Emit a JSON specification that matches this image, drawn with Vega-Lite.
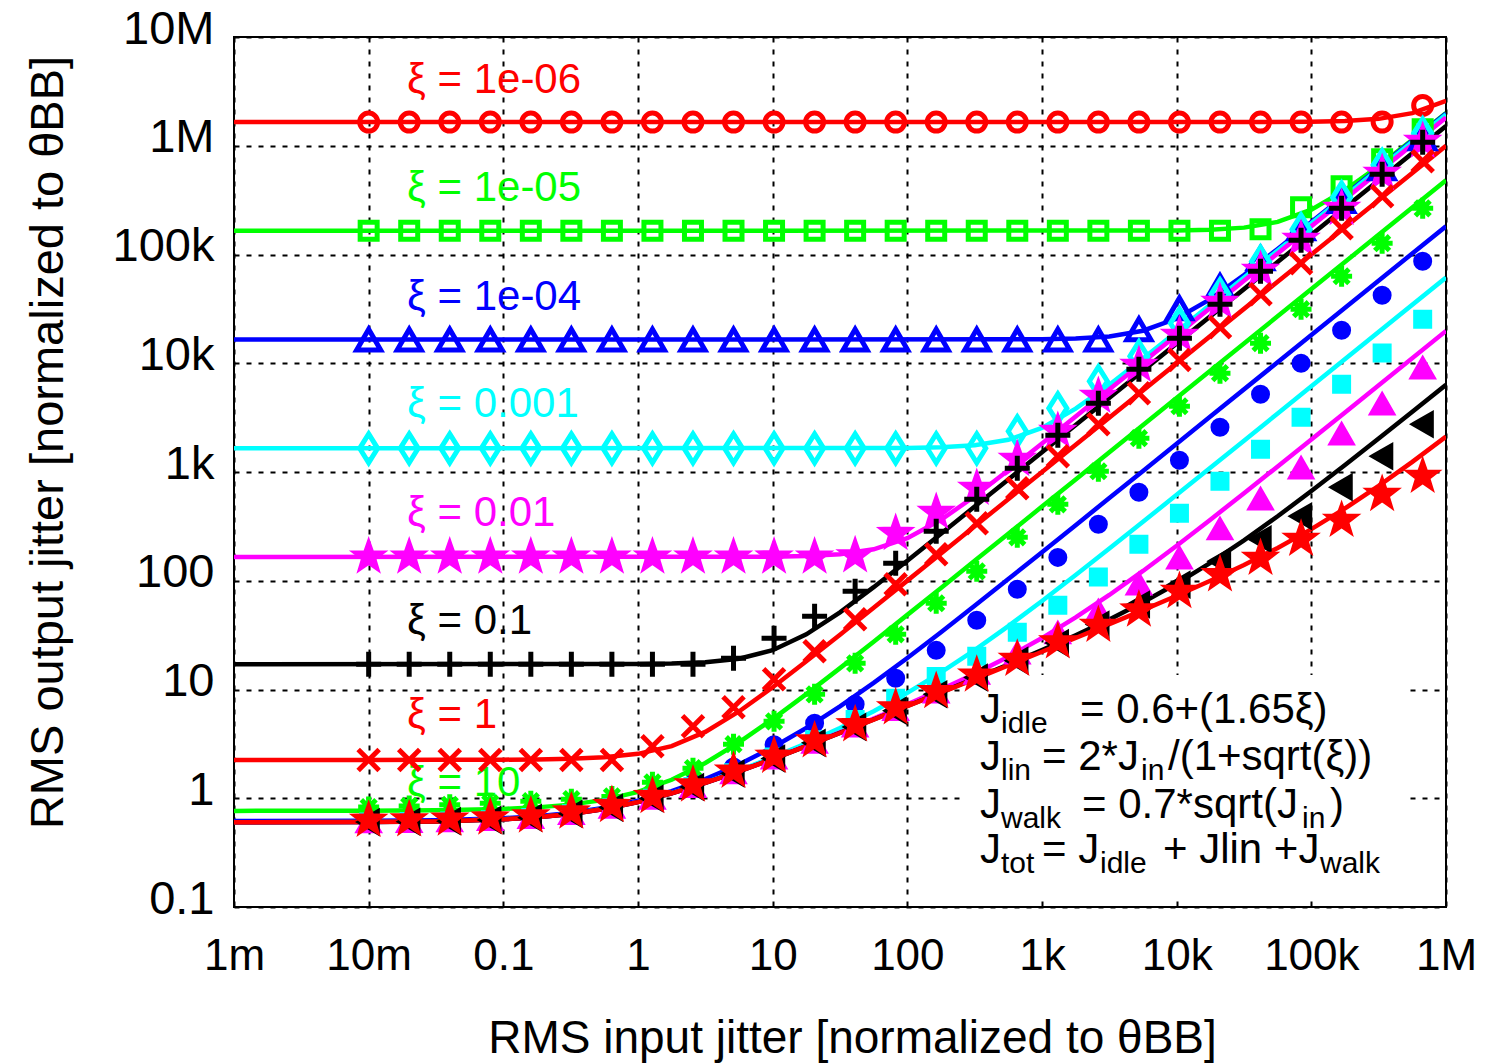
{
  "$schema": "https://vega.github.io/schema/vega-lite/v6.json",
  "width": 1212,
  "height": 870,
  "autosize": {"type": "none"},
  "padding": {"left": 234, "top": 37, "right": 44, "bottom": 157},
  "background": "white",
  "config": {
    "view": {"stroke": "black", "strokeWidth": 2},
    "font": "Liberation Sans",
    "axis": {
      "domain": false,
      "ticks": false,
      "tickSize": 0,
      "grid": true,
      "gridColor": "black",
      "gridDash": [5, 7],
      "gridWidth": 2,
      "gridOpacity": 1,
      "labelFont": "Liberation Sans",
      "labelColor": "black",
      "labelOverlap": false,
      "labelFlush": false,
      "labelBound": false,
      "titleFont": "Liberation Sans",
      "titleFontWeight": "normal",
      "titleColor": "black"
    }
  },
  "datasets": {
    "box": [{"x": 246, "x2": 496000, "y": 0.129, "y2": 13.6}],
    "labs": [
      {"s": "1e-06", "x": 0.01926, "y": 4020000, "t": "ξ = 1e-06"},
      {"s": "1e-05", "x": 0.01926, "y": 409000, "t": "ξ = 1e-05"},
      {"s": "1e-04", "x": 0.01926, "y": 40600, "t": "ξ = 1e-04"},
      {"s": "0.001", "x": 0.01926, "y": 4176, "t": "ξ = 0.001"},
      {"s": "0.01", "x": 0.01926, "y": 424, "t": "ξ = 0.01"},
      {"s": "0.1", "x": 0.01926, "y": 42.2, "t": "ξ = 0.1"},
      {"s": "1", "x": 0.01926, "y": 5.77, "t": "ξ = 1"},
      {"s": "10", "x": 0.01926, "y": 1.381, "t": "ξ = 10"}
    ],
    "eqm": [
      {"x": 346.3, "y": 4.92, "t": "J"},
      {"x": 1914, "y": 4.92, "t": "= 0.6+(1.65ξ)"},
      {"x": 346.3, "y": 1.82, "t": "J"},
      {"x": 1000, "y": 1.82, "t": "= 2*J"},
      {"x": 8619, "y": 1.82, "t": "/(1+sqrt(ξ))"},
      {"x": 346.3, "y": 0.658, "t": "J"},
      {"x": 1981, "y": 0.658, "t": "= 0.7*sqrt(J"},
      {"x": 137500, "y": 0.658, "t": ")"},
      {"x": 346.3, "y": 0.2539, "t": "J"},
      {"x": 1000, "y": 0.2539, "t": "= J"},
      {"x": 7914, "y": 0.2539, "t": "+ Jlin +J"}
    ],
    "eqs": [
      {"x": 496, "y": 3.98, "t": "idle"},
      {"x": 496, "y": 1.472, "t": "lin"},
      {"x": 5433, "y": 1.472, "t": "in"},
      {"x": 496, "y": 0.5326, "t": "walk"},
      {"x": 85200, "y": 0.5326, "t": "in"},
      {"x": 496, "y": 0.2054, "t": "tot"},
      {"x": 2695, "y": 0.2054, "t": "idle"},
      {"x": 115900, "y": 0.2054, "t": "walk"}
    ],
    "lns": [
      {"s":"1e-06","x":0.001,"y":1650000},{"s":"1e-06","x":10000,"y":1650121},{"s":"1e-06","x":31623,"y":1651209},{"s":"1e-06","x":100000,"y":1662048},{"s":"1e-06","x":177828,"y":1687800},{"s":"1e-06","x":316228,"y":1766800},{"s":"1e-06","x":562341,"y":1996200},{"s":"1e-06","x":1000000,"y":2591200},
      {"s":"1e-05","x":0.001,"y":165000},{"s":"1e-05","x":10000,"y":166200},{"s":"1e-05","x":17783,"y":168766},{"s":"1e-05","x":31623,"y":176636},{"s":"1e-05","x":56234,"y":199487},{"s":"1e-05","x":100000,"y":258792},{"s":"1e-05","x":177828,"y":391051},{"s":"1e-05","x":316228,"y":651698},{"s":"1e-05","x":562341,"y":1133216},{"s":"1e-05","x":1000000,"y":2000517},
      {"s":"1e-04","x":0.001,"y":16500.6},{"s":"1e-04","x":1000,"y":16619},{"s":"1e-04","x":1778,"y":16872},{"s":"1e-04","x":3162,"y":17648},{"s":"1e-04","x":5623,"y":19906},{"s":"1e-04","x":10000,"y":25776},{"s":"1e-04","x":17783,"y":38888},{"s":"1e-04","x":31623,"y":64757},{"s":"1e-04","x":56234,"y":112571},{"s":"1e-04","x":100000,"y":198706},{"s":"1e-04","x":177828,"y":352522},{"s":"1e-04","x":1000000,"y":1980269},
      {"s":"0.001","x":0.001,"y":1650.6},{"s":"0.001","x":100,"y":1662},{"s":"0.001","x":177.8,"y":1686},{"s":"0.001","x":316.2,"y":1760.8},{"s":"0.001","x":562.3,"y":1978.2},{"s":"0.001","x":1000,"y":2546.3},{"s":"0.001","x":1778,"y":3821.9},{"s":"0.001","x":3162,"y":6348.6},{"s":"0.001","x":5623,"y":11025},{"s":"0.001","x":10000,"y":19457},{"s":"0.001","x":31623,"y":61329},{"s":"0.001","x":1000000,"y":1938700},
      {"s":"0.01","x":0.001,"y":165.6},{"s":"0.01","x":10,"y":166.6},{"s":"0.01","x":17.78,"y":168.75},{"s":"0.01","x":31.62,"y":175.3},{"s":"0.01","x":56.23,"y":194.7},{"s":"0.01","x":100,"y":246},{"s":"0.01","x":177.8,"y":363.4},{"s":"0.01","x":316.2,"y":598.4},{"s":"0.01","x":562.3,"y":1035.9},{"s":"0.01","x":1000,"y":1825.8},{"s":"0.01","x":1778,"y":3237.4},{"s":"0.01","x":5623,"y":10225},{"s":"0.01","x":1000000,"y":1818182},
      {"s":"0.1","x":0.001,"y":17.1},{"s":"0.1","x":1,"y":17.18},{"s":"0.1","x":1.778,"y":17.34},{"s":"0.1","x":3.162,"y":17.81},{"s":"0.1","x":5.623,"y":19.19},{"s":"0.1","x":10,"y":22.98},{"s":"0.1","x":17.78,"y":32.11},{"s":"0.1","x":31.62,"y":51.15},{"s":"0.1","x":56.23,"y":87.29},{"s":"0.1","x":100,"y":153.07},{"s":"0.1","x":177.8,"y":270.9},{"s":"0.1","x":316.2,"y":481},{"s":"0.1","x":562.3,"y":854.7},{"s":"0.1","x":1000,"y":1519.7},{"s":"0.1","x":1778,"y":2702.2},{"s":"0.1","x":1000000,"y":1519490},
      {"s":"1","x":0.001,"y":2.2501},{"s":"1","x":0.01,"y":2.2511},{"s":"1","x":0.03162,"y":2.2537},{"s":"1","x":0.1,"y":2.2631},{"s":"1","x":0.1778,"y":2.2762},{"s":"1","x":0.3162,"y":2.306},{"s":"1","x":0.5623,"y":2.3779},{"s":"1","x":1,"y":2.5598},{"s":"1","x":1.778,"y":3.0159},{"s":"1","x":3.162,"y":4.0757},{"s":"1","x":5.623,"y":6.28},{"s":"1","x":10,"y":10.486},{"s":"1","x":17.78,"y":18.165},{"s":"1","x":31.62,"y":31.947},{"s":"1","x":56.23,"y":56.52},{"s":"1","x":100,"y":100.27},{"s":"1","x":177.8,"y":178.09},{"s":"1","x":316.2,"y":316.47},{"s":"1","x":1000,"y":1000.25},{"s":"1","x":1000000,"y":1000000},
      {"s":"10","x":0.001,"y":0.7653},{"s":"10","x":0.003162,"y":0.766},{"s":"10","x":0.01,"y":0.7682},{"s":"10","x":0.03162,"y":0.7752},{"s":"10","x":0.1,"y":0.7978},{"s":"10","x":0.1778,"y":0.8244},{"s":"10","x":0.3162,"y":0.8737},{"s":"10","x":0.5623,"y":0.9663},{"s":"10","x":1,"y":1.1428},{"s":"10","x":1.778,"y":1.4787},{"s":"10","x":3.162,"y":2.1079},{"s":"10","x":5.623,"y":3.262},{"s":"10","x":10,"y":5.3455},{"s":"10","x":17.78,"y":9.072},{"s":"10","x":31.62,"y":15.715},{"s":"10","x":56.23,"y":27.53},{"s":"10","x":100,"y":48.56},{"s":"10","x":177.8,"y":85.96},{"s":"10","x":316.2,"y":152.46},{"s":"10","x":562.3,"y":270.7},{"s":"10","x":1000,"y":481},{"s":"10","x":1778,"y":855.3},{"s":"10","x":3162,"y":1520.2},{"s":"10","x":1000000,"y":480510},
      {"s":"100","x":0.001,"y":0.6169},{"s":"100","x":0.01,"y":0.6205},{"s":"100","x":0.03162,"y":0.629},{"s":"100","x":0.1,"y":0.6553},{"s":"100","x":0.1778,"y":0.6843},{"s":"100","x":0.3162,"y":0.7338},{"s":"100","x":0.5623,"y":0.8161},{"s":"100","x":1,"y":0.9503},{"s":"100","x":1.778,"y":1.1644},{"s":"100","x":3.162,"y":1.5032},{"s":"100","x":5.623,"y":2.0446},{"s":"100","x":10,"y":2.9302},{"s":"100","x":17.78,"y":4.4211},{"s":"100","x":31.62,"y":6.9952},{"s":"100","x":56.23,"y":11.509},{"s":"100","x":100,"y":19.493},{"s":"100","x":177.8,"y":33.657},{"s":"100","x":316.2,"y":58.832},{"s":"100","x":562.3,"y":103.58},{"s":"100","x":1000,"y":183.16},{"s":"100","x":1778,"y":324.66},{"s":"100","x":3162,"y":576.3},{"s":"100","x":5623,"y":1023.7},{"s":"100","x":10000,"y":1819.5},{"s":"100","x":17783,"y":3234.7},{"s":"100","x":1000000,"y":181819},
      {"s":"1000","x":0.001,"y":0.6017},{"s":"1000","x":0.01,"y":0.6057},{"s":"1000","x":0.03162,"y":0.6144},{"s":"1000","x":0.1,"y":0.6411},{"s":"1000","x":0.1778,"y":0.6702},{"s":"1000","x":0.3162,"y":0.7193},{"s":"1000","x":0.5623,"y":0.7992},{"s":"1000","x":1,"y":0.9251},{"s":"1000","x":1.778,"y":1.1159},{"s":"1000","x":3.162,"y":1.3959},{"s":"1000","x":5.623,"y":1.7988},{"s":"1000","x":10,"y":2.3744},{"s":"1000","x":17.78,"y":3.2037},{"s":"1000","x":31.62,"y":4.4289},{"s":"1000","x":56.23,"y":6.3085},{"s":"1000","x":100,"y":9.3245},{"s":"1000","x":177.8,"y":14.365},{"s":"1000","x":316.2,"y":23.047},{"s":"1000","x":562.3,"y":38.267},{"s":"1000","x":1000,"y":65.18},{"s":"1000","x":1778,"y":112.95},{"s":"1000","x":3162,"y":197.82},{"s":"1000","x":5623,"y":348.72},{"s":"1000","x":10000,"y":617.04},{"s":"1000","x":17783,"y":1094.2},{"s":"1000","x":31623,"y":1942.7},{"s":"1000","x":56234,"y":3451.5},{"s":"1000","x":100000,"y":6134.6},{"s":"1000","x":1000000,"y":61310},
      {"s":"1e4","x":0.001,"y":0.6006},{"s":"1e4","x":0.01,"y":0.6042},{"s":"1e4","x":0.03162,"y":0.613},{"s":"1e4","x":0.1,"y":0.6397},{"s":"1e4","x":0.1778,"y":0.6688},{"s":"1e4","x":0.3162,"y":0.7178},{"s":"1e4","x":0.5623,"y":0.7974},{"s":"1e4","x":1,"y":0.9223},{"s":"1e4","x":1.778,"y":1.1103},{"s":"1e4","x":3.162,"y":1.3833},{"s":"1e4","x":5.623,"y":1.7686},{"s":"1e4","x":10,"y":2.302},{"s":"1e4","x":17.78,"y":3.0328},{"s":"1e4","x":31.62,"y":4.0308},{"s":"1e4","x":56.23,"y":5.3995},{"s":"1e4","x":100,"y":7.2994},{"s":"1e4","x":177.8,"y":9.9948},{"s":"1e4","x":316.2,"y":13.947},{"s":"1e4","x":562.3,"y":19.998},{"s":"1e4","x":1000,"y":29.707},{"s":"1e4","x":1778,"y":45.953},{"s":"1e4","x":3162,"y":73.967},{"s":"1e4","x":5623,"y":123.11},{"s":"1e4","x":10000,"y":210.03},{"s":"1e4","x":17783,"y":364.3},{"s":"1e4","x":31623,"y":638.44},{"s":"1e4","x":56234,"y":1125.8},{"s":"1e4","x":100000,"y":1992.5},{"s":"1e4","x":177828,"y":3533.6},{"s":"1e4","x":1000000,"y":19814.4},
      {"s":"1e5","x":0.001,"y":0.6004},{"s":"1e5","x":0.01,"y":0.6041},{"s":"1e5","x":0.03162,"y":0.6128},{"s":"1e5","x":0.1,"y":0.6395},{"s":"1e5","x":0.1778,"y":0.6687},{"s":"1e5","x":0.3162,"y":0.7176},{"s":"1e5","x":0.5623,"y":0.7972},{"s":"1e5","x":1,"y":0.922},{"s":"1e5","x":1.778,"y":1.1097},{"s":"1e5","x":3.162,"y":1.382},{"s":"1e5","x":5.623,"y":1.7654},{"s":"1e5","x":10,"y":2.2943},{"s":"1e5","x":17.78,"y":3.0143},{"s":"1e5","x":31.62,"y":3.9868},{"s":"1e5","x":56.23,"y":5.2954},{"s":"1e5","x":100,"y":7.0539},{"s":"1e5","x":177.8,"y":9.4209},{"s":"1e5","x":316.2,"y":12.621},{"s":"1e5","x":562.3,"y":16.985},{"s":"1e5","x":1000,"y":23.024},{"s":"1e5","x":1778,"y":31.582},{"s":"1e5","x":3162,"y":44.129},{"s":"1e5","x":5623,"y":63.345},{"s":"1e5","x":10000,"y":94.208},{"s":"1e5","x":17783,"y":145.89},{"s":"1e5","x":31623,"y":235.04},{"s":"1e5","x":56234,"y":391.47},{"s":"1e5","x":100000,"y":668.19},{"s":"1e5","x":177828,"y":1159.3},{"s":"1e5","x":316228,"y":2032.2},{"s":"1e5","x":562341,"y":3583.9},{"s":"1e5","x":1000000,"y":6343.3},
      {"s":"1e6","x":0.001,"y":0.6004},{"s":"1e6","x":0.01,"y":0.6041},{"s":"1e6","x":0.03162,"y":0.6128},{"s":"1e6","x":0.1,"y":0.6395},{"s":"1e6","x":0.1778,"y":0.6687},{"s":"1e6","x":0.3162,"y":0.7176},{"s":"1e6","x":0.5623,"y":0.7972},{"s":"1e6","x":1,"y":0.922},{"s":"1e6","x":1.778,"y":1.1097},{"s":"1e6","x":3.162,"y":1.3819},{"s":"1e6","x":5.623,"y":1.765},{"s":"1e6","x":10,"y":2.2936},{"s":"1e6","x":17.78,"y":3.0124},{"s":"1e6","x":31.62,"y":3.9823},{"s":"1e6","x":56.23,"y":5.2847},{"s":"1e6","x":100,"y":7.0285},{"s":"1e6","x":177.8,"y":9.3607},{"s":"1e6","x":316.2,"y":12.478},{"s":"1e6","x":562.3,"y":16.649},{"s":"1e6","x":1000,"y":22.234},{"s":"1e6","x":1778,"y":29.738},{"s":"1e6","x":3162,"y":39.872},{"s":"1e6","x":5623,"y":53.683},{"s":"1e6","x":10000,"y":72.799},{"s":"1e6","x":17783,"y":99.882},{"s":"1e6","x":31623,"y":139.6},{"s":"1e6","x":56234,"y":200.45},{"s":"1e6","x":100000,"y":298.2},{"s":"1e6","x":177828,"y":461.93},{"s":"1e6","x":316228,"y":744.41},{"s":"1e6","x":562341,"y":1240.1},{"s":"1e6","x":1000000,"y":2117.1}
    ],
    "pts": [
      {"s":"1e-06","x":0.01,"y":1650000},{"s":"1e-06","x":0.02,"y":1650000},{"s":"1e-06","x":0.04,"y":1650000},{"s":"1e-06","x":0.08,"y":1650000},{"s":"1e-06","x":0.16,"y":1650000},{"s":"1e-06","x":0.32,"y":1650000},{"s":"1e-06","x":0.64,"y":1650000},{"s":"1e-06","x":1.28,"y":1650000},{"s":"1e-06","x":2.56,"y":1650000},{"s":"1e-06","x":5.12,"y":1650000},{"s":"1e-06","x":10.24,"y":1650000},{"s":"1e-06","x":20.48,"y":1650000},{"s":"1e-06","x":40.96,"y":1650000},{"s":"1e-06","x":81.92,"y":1650000},{"s":"1e-06","x":163.84,"y":1650000},{"s":"1e-06","x":327.68,"y":1650000},{"s":"1e-06","x":655.36,"y":1650000},{"s":"1e-06","x":1310.72,"y":1650000},{"s":"1e-06","x":2621.44,"y":1650000},{"s":"1e-06","x":5242.88,"y":1650000},{"s":"1e-06","x":10485.76,"y":1650000},{"s":"1e-06","x":20971.52,"y":1650000},{"s":"1e-06","x":41943.04,"y":1650000},{"s":"1e-06","x":83886.08,"y":1650000},{"s":"1e-06","x":167772.16,"y":1650000},{"s":"1e-06","x":335544.32,"y":1650000},{"s":"1e-06","x":671088.64,"y":2350000},
      {"s":"1e-05","x":0.01,"y":165000},{"s":"1e-05","x":0.02,"y":165000},{"s":"1e-05","x":0.04,"y":165000},{"s":"1e-05","x":0.08,"y":165000},{"s":"1e-05","x":0.16,"y":165000},{"s":"1e-05","x":0.32,"y":165000},{"s":"1e-05","x":0.64,"y":165000},{"s":"1e-05","x":1.28,"y":165000},{"s":"1e-05","x":2.56,"y":165000},{"s":"1e-05","x":5.12,"y":165000},{"s":"1e-05","x":10.24,"y":165000},{"s":"1e-05","x":20.48,"y":165000},{"s":"1e-05","x":40.96,"y":165000},{"s":"1e-05","x":81.92,"y":165000},{"s":"1e-05","x":163.84,"y":165000},{"s":"1e-05","x":327.68,"y":165000},{"s":"1e-05","x":655.36,"y":165000},{"s":"1e-05","x":1310.72,"y":165000},{"s":"1e-05","x":2621.44,"y":165000},{"s":"1e-05","x":5242.88,"y":165000},{"s":"1e-05","x":10485.76,"y":165000},{"s":"1e-05","x":20971.52,"y":165000},{"s":"1e-05","x":41943.04,"y":170700},{"s":"1e-05","x":83886.08,"y":272000},{"s":"1e-05","x":167772.16,"y":424000},{"s":"1e-05","x":335544.32,"y":751000},{"s":"1e-05","x":671088.64,"y":1418000},
      {"s":"1e-04","x":0.01,"y":16500},{"s":"1e-04","x":0.02,"y":16500},{"s":"1e-04","x":0.04,"y":16500},{"s":"1e-04","x":0.08,"y":16500},{"s":"1e-04","x":0.16,"y":16500},{"s":"1e-04","x":0.32,"y":16500},{"s":"1e-04","x":0.64,"y":16500},{"s":"1e-04","x":1.28,"y":16500},{"s":"1e-04","x":2.56,"y":16500},{"s":"1e-04","x":5.12,"y":16500},{"s":"1e-04","x":10.24,"y":16500},{"s":"1e-04","x":20.48,"y":16500},{"s":"1e-04","x":40.96,"y":16500},{"s":"1e-04","x":81.92,"y":16500},{"s":"1e-04","x":163.84,"y":16500},{"s":"1e-04","x":327.68,"y":16500},{"s":"1e-04","x":655.36,"y":16500},{"s":"1e-04","x":1310.72,"y":16500},{"s":"1e-04","x":2621.44,"y":16500},{"s":"1e-04","x":5242.88,"y":20500},{"s":"1e-04","x":10485.76,"y":32000},{"s":"1e-04","x":20971.52,"y":51100},{"s":"1e-04","x":41943.04,"y":92400},{"s":"1e-04","x":83886.08,"y":174000},{"s":"1e-04","x":167772.16,"y":309000},{"s":"1e-04","x":335544.32,"y":621000},{"s":"1e-04","x":671088.64,"y":1172000},
      {"s":"0.001","x":0.01,"y":1650},{"s":"0.001","x":0.02,"y":1650},{"s":"0.001","x":0.04,"y":1650},{"s":"0.001","x":0.08,"y":1650},{"s":"0.001","x":0.16,"y":1650},{"s":"0.001","x":0.32,"y":1650},{"s":"0.001","x":0.64,"y":1650},{"s":"0.001","x":1.28,"y":1650},{"s":"0.001","x":2.56,"y":1650},{"s":"0.001","x":5.12,"y":1650},{"s":"0.001","x":10.24,"y":1650},{"s":"0.001","x":20.48,"y":1650},{"s":"0.001","x":40.96,"y":1650},{"s":"0.001","x":81.92,"y":1650},{"s":"0.001","x":163.84,"y":1650},{"s":"0.001","x":327.68,"y":1650},{"s":"0.001","x":655.36,"y":2370},{"s":"0.001","x":1310.72,"y":3857},{"s":"0.001","x":2621.44,"y":6830},{"s":"0.001","x":5242.88,"y":11600},{"s":"0.001","x":10485.76,"y":23300},{"s":"0.001","x":20971.52,"y":43100},{"s":"0.001","x":41943.04,"y":86000},{"s":"0.001","x":83886.08,"y":170000},{"s":"0.001","x":167772.16,"y":335000},{"s":"0.001","x":335544.32,"y":665000},{"s":"0.001","x":671088.64,"y":1300000},
      {"s":"0.01","x":0.01,"y":165.6},{"s":"0.01","x":0.02,"y":165.6},{"s":"0.01","x":0.04,"y":165.6},{"s":"0.01","x":0.08,"y":165.6},{"s":"0.01","x":0.16,"y":165.6},{"s":"0.01","x":0.32,"y":165.6},{"s":"0.01","x":0.64,"y":165.6},{"s":"0.01","x":1.28,"y":165.6},{"s":"0.01","x":2.56,"y":165.6},{"s":"0.01","x":5.12,"y":165.6},{"s":"0.01","x":10.24,"y":165.6},{"s":"0.01","x":20.48,"y":165.6},{"s":"0.01","x":40.96,"y":170},{"s":"0.01","x":81.92,"y":273},{"s":"0.01","x":163.84,"y":426},{"s":"0.01","x":327.68,"y":709},{"s":"0.01","x":655.36,"y":1309},{"s":"0.01","x":1310.72,"y":2371},{"s":"0.01","x":2621.44,"y":4973},{"s":"0.01","x":5242.88,"y":9591},{"s":"0.01","x":10485.76,"y":18100},{"s":"0.01","x":20971.52,"y":36400},{"s":"0.01","x":41943.04,"y":71600},{"s":"0.01","x":83886.08,"y":138000},{"s":"0.01","x":167772.16,"y":266000},{"s":"0.01","x":335544.32,"y":558000},{"s":"0.01","x":671088.64,"y":1100000},
      {"s":"0.1","x":0.01,"y":17.1},{"s":"0.1","x":0.02,"y":17.1},{"s":"0.1","x":0.04,"y":17.1},{"s":"0.1","x":0.08,"y":17.1},{"s":"0.1","x":0.16,"y":17.1},{"s":"0.1","x":0.32,"y":17.1},{"s":"0.1","x":0.64,"y":17.1},{"s":"0.1","x":1.28,"y":17.1},{"s":"0.1","x":2.56,"y":17.1},{"s":"0.1","x":5.12,"y":19.4},{"s":"0.1","x":10.24,"y":29.6},{"s":"0.1","x":20.48,"y":47.2},{"s":"0.1","x":40.96,"y":80},{"s":"0.1","x":81.92,"y":145},{"s":"0.1","x":163.84,"y":285},{"s":"0.1","x":327.68,"y":561},{"s":"0.1","x":655.36,"y":1081},{"s":"0.1","x":1310.72,"y":2177},{"s":"0.1","x":2621.44,"y":4286},{"s":"0.1","x":5242.88,"y":8810},{"s":"0.1","x":10485.76,"y":17000},{"s":"0.1","x":20971.52,"y":34900},{"s":"0.1","x":41943.04,"y":70200},{"s":"0.1","x":83886.08,"y":135000},{"s":"0.1","x":167772.16,"y":266000},{"s":"0.1","x":335544.32,"y":547000},{"s":"0.1","x":671088.64,"y":1077000},
      {"s":"1","x":0.01,"y":2.25},{"s":"1","x":0.02,"y":2.25},{"s":"1","x":0.04,"y":2.25},{"s":"1","x":0.08,"y":2.25},{"s":"1","x":0.16,"y":2.25},{"s":"1","x":0.32,"y":2.25},{"s":"1","x":0.64,"y":2.25},{"s":"1","x":1.28,"y":3.01},{"s":"1","x":2.56,"y":4.59},{"s":"1","x":5.12,"y":6.87},{"s":"1","x":10.24,"y":12.4},{"s":"1","x":20.48,"y":22.5},{"s":"1","x":40.96,"y":44.3},{"s":"1","x":81.92,"y":92.9},{"s":"1","x":163.84,"y":175},{"s":"1","x":327.68,"y":338},{"s":"1","x":655.36,"y":709},{"s":"1","x":1310.72,"y":1396},{"s":"1","x":2621.44,"y":2748},{"s":"1","x":5242.88,"y":5300},{"s":"1","x":10485.76,"y":10700},{"s":"1","x":20971.52,"y":21400},{"s":"1","x":41943.04,"y":43100},{"s":"1","x":83886.08,"y":83100},{"s":"1","x":167772.16,"y":174000},{"s":"1","x":335544.32,"y":343000},{"s":"1","x":671088.64,"y":720000},
      {"s":"10","x":0.01,"y":0.83},{"s":"10","x":0.02,"y":0.85},{"s":"10","x":0.04,"y":0.87},{"s":"10","x":0.08,"y":0.9},{"s":"10","x":0.16,"y":0.94},{"s":"10","x":0.32,"y":0.98},{"s":"10","x":0.64,"y":1.04},{"s":"10","x":1.28,"y":1.4},{"s":"10","x":2.56,"y":1.89},{"s":"10","x":5.12,"y":3.14},{"s":"10","x":10.24,"y":5.1},{"s":"10","x":20.48,"y":9.03},{"s":"10","x":40.96,"y":17.4},{"s":"10","x":81.92,"y":32.2},{"s":"10","x":163.84,"y":62.1},{"s":"10","x":327.68,"y":122},{"s":"10","x":655.36,"y":251},{"s":"10","x":1310.72,"y":505},{"s":"10","x":2621.44,"y":1016},{"s":"10","x":5242.88,"y":2044},{"s":"10","x":10485.76,"y":4024},{"s":"10","x":20971.52,"y":8100},{"s":"10","x":41943.04,"y":15300},{"s":"10","x":83886.08,"y":31400},{"s":"10","x":167772.16,"y":63100},{"s":"10","x":335544.32,"y":127000},{"s":"10","x":671088.64,"y":266000},
      {"s":"100","x":0.01,"y":0.62},{"s":"100","x":0.02,"y":0.625},{"s":"100","x":0.04,"y":0.632},{"s":"100","x":0.08,"y":0.648},{"s":"100","x":0.16,"y":0.678},{"s":"100","x":0.32,"y":0.735},{"s":"100","x":0.64,"y":0.841},{"s":"100","x":1.28,"y":1.03},{"s":"100","x":2.56,"y":1.36},{"s":"100","x":5.12,"y":1.94},{"s":"100","x":10.24,"y":3.1},{"s":"100","x":20.48,"y":4.9},{"s":"100","x":40.96,"y":7.32},{"s":"100","x":81.92,"y":12.7},{"s":"100","x":163.84,"y":22.9},{"s":"100","x":327.68,"y":43.3},{"s":"100","x":655.36,"y":83.5},{"s":"100","x":1310.72,"y":164},{"s":"100","x":2621.44,"y":331},{"s":"100","x":5242.88,"y":652},{"s":"100","x":10485.76,"y":1282},{"s":"100","x":20971.52,"y":2580},{"s":"100","x":41943.04,"y":5190},{"s":"100","x":83886.08,"y":10000},{"s":"100","x":167772.16,"y":20100},{"s":"100","x":335544.32,"y":42200},{"s":"100","x":671088.64,"y":86700},
      {"s":"1000","x":0.01,"y":0.606},{"s":"1000","x":0.02,"y":0.61},{"s":"1000","x":0.04,"y":0.618},{"s":"1000","x":0.08,"y":0.633},{"s":"1000","x":0.16,"y":0.664},{"s":"1000","x":0.32,"y":0.72},{"s":"1000","x":0.64,"y":0.823},{"s":"1000","x":1.28,"y":0.998},{"s":"1000","x":2.56,"y":1.28},{"s":"1000","x":5.12,"y":1.72},{"s":"1000","x":10.24,"y":2.4},{"s":"1000","x":20.48,"y":3.46},{"s":"1000","x":40.96,"y":5.3},{"s":"1000","x":81.92,"y":8.31},{"s":"1000","x":163.84,"y":13.2},{"s":"1000","x":327.68,"y":20.2},{"s":"1000","x":655.36,"y":33.6},{"s":"1000","x":1310.72,"y":59.5},{"s":"1000","x":2621.44,"y":108},{"s":"1000","x":5242.88,"y":217},{"s":"1000","x":10485.76,"y":418},{"s":"1000","x":20971.52,"y":822},{"s":"1000","x":41943.04,"y":1619},{"s":"1000","x":83886.08,"y":3187},{"s":"1000","x":167772.16,"y":6410},{"s":"1000","x":335544.32,"y":12400},{"s":"1000","x":671088.64,"y":25400},
      {"s":"1e4","x":0.01,"y":0.604},{"s":"1e4","x":0.02,"y":0.608},{"s":"1e4","x":0.04,"y":0.616},{"s":"1e4","x":0.08,"y":0.632},{"s":"1e4","x":0.16,"y":0.662},{"s":"1e4","x":0.32,"y":0.719},{"s":"1e4","x":0.64,"y":0.821},{"s":"1e4","x":1.28,"y":0.994},{"s":"1e4","x":2.56,"y":1.27},{"s":"1e4","x":5.12,"y":1.7},{"s":"1e4","x":10.24,"y":2.33},{"s":"1e4","x":20.48,"y":3.25},{"s":"1e4","x":40.96,"y":4.59},{"s":"1e4","x":81.92,"y":6.5},{"s":"1e4","x":163.84,"y":9.4},{"s":"1e4","x":327.68,"y":14},{"s":"1e4","x":655.36,"y":21.5},{"s":"1e4","x":1310.72,"y":33},{"s":"1e4","x":2621.44,"y":52.4},{"s":"1e4","x":5242.88,"y":92.9},{"s":"1e4","x":10485.76,"y":161},{"s":"1e4","x":20971.52,"y":298},{"s":"1e4","x":41943.04,"y":562},{"s":"1e4","x":83886.08,"y":1083},{"s":"1e4","x":167772.16,"y":2225},{"s":"1e4","x":335544.32,"y":4198},{"s":"1e4","x":671088.64,"y":8995},
      {"s":"1e5","x":0.01,"y":0.604},{"s":"1e5","x":0.02,"y":0.608},{"s":"1e5","x":0.04,"y":0.616},{"s":"1e5","x":0.08,"y":0.632},{"s":"1e5","x":0.16,"y":0.662},{"s":"1e5","x":0.32,"y":0.719},{"s":"1e5","x":0.64,"y":0.821},{"s":"1e5","x":1.28,"y":0.994},{"s":"1e5","x":2.56,"y":1.27},{"s":"1e5","x":5.12,"y":1.69},{"s":"1e5","x":10.24,"y":2.32},{"s":"1e5","x":20.48,"y":3.23},{"s":"1e5","x":40.96,"y":4.53},{"s":"1e5","x":81.92,"y":6.39},{"s":"1e5","x":163.84,"y":9.04},{"s":"1e5","x":327.68,"y":12.9},{"s":"1e5","x":655.36,"y":18.4},{"s":"1e5","x":1310.72,"y":26.7},{"s":"1e5","x":2621.44,"y":39.5},{"s":"1e5","x":5242.88,"y":60.5},{"s":"1e5","x":10485.76,"y":92},{"s":"1e5","x":20971.52,"y":151},{"s":"1e5","x":41943.04,"y":241},{"s":"1e5","x":83886.08,"y":392},{"s":"1e5","x":167772.16,"y":725},{"s":"1e5","x":335544.32,"y":1396},{"s":"1e5","x":671088.64,"y":2748},
      {"s":"1e6","x":0.01,"y":0.63},{"s":"1e6","x":0.02,"y":0.635},{"s":"1e6","x":0.04,"y":0.645},{"s":"1e6","x":0.08,"y":0.66},{"s":"1e6","x":0.16,"y":0.69},{"s":"1e6","x":0.32,"y":0.75},{"s":"1e6","x":0.64,"y":0.86},{"s":"1e6","x":1.28,"y":1.04},{"s":"1e6","x":2.56,"y":1.33},{"s":"1e6","x":5.12,"y":1.78},{"s":"1e6","x":10.24,"y":2.44},{"s":"1e6","x":20.48,"y":3.38},{"s":"1e6","x":40.96,"y":4.75},{"s":"1e6","x":81.92,"y":6.8},{"s":"1e6","x":163.84,"y":9.6},{"s":"1e6","x":327.68,"y":13.6},{"s":"1e6","x":655.36,"y":19},{"s":"1e6","x":1310.72,"y":27.5},{"s":"1e6","x":2621.44,"y":39},{"s":"1e6","x":5242.88,"y":54},{"s":"1e6","x":10485.76,"y":80},{"s":"1e6","x":20971.52,"y":114},{"s":"1e6","x":41943.04,"y":161},{"s":"1e6","x":83886.08,"y":241},{"s":"1e6","x":167772.16,"y":360},{"s":"1e6","x":335544.32,"y":624},{"s":"1e6","x":671088.64,"y":914}
    ]
  },
  "encoding": {
    "x": {
      "field": "x", "type": "quantitative",
      "scale": {"type": "log", "domain": [0.001, 1000000], "nice": false},
      "axis": {
        "values": [0.001, 0.01, 0.1, 1, 10, 100, 1000, 10000, 100000, 1000000],
        "labelExpr": "datum.value < 0.05 ? format(datum.value*1000,'d')+'m' : datum.value < 1 ? format(datum.value,'.1f') : datum.value < 1000 ? format(datum.value,'d') : datum.value < 1000000 ? format(datum.value/1000,'d')+'k' : format(datum.value/1000000,'d')+'M'",
        "labelFontSize": 44,
        "labelBaseline": "alphabetic",
        "labelPadding": 62,
        "title": "RMS input jitter [normalized to θBB]",
        "titleFontSize": 46,
        "titleX": 618,
        "titleY": 145,
        "titleAlign": "center",
        "titleBaseline": "alphabetic",
        "titleAnchor": null
      }
    },
    "y": {
      "field": "y", "type": "quantitative",
      "scale": {"type": "log", "domain": [0.1, 10000000], "nice": false},
      "axis": {
        "values": [0.1, 1, 10, 100, 1000, 10000, 100000, 1000000, 10000000],
        "labelExpr": "datum.value < 1 ? format(datum.value,'.1f') : datum.value < 1000 ? format(datum.value,'d') : datum.value < 1000000 ? format(datum.value/1000,'d')+'k' : format(datum.value/1000000,'d')+'M'",
        "labelFontSize": 47,
        "labelBaseline": "alphabetic",
        "labelOffset": 6,
        "labelPadding": 20,
        "title": "RMS output jitter [normalized to θBB]",
        "titleFontSize": 47,
        "titleX": -172,
        "titleY": 405,
        "titleAngle": 270,
        "titleAlign": "center",
        "titleBaseline": "alphabetic",
        "titleAnchor": null
      }
    }
  },
  "layer": [
    {
      "data": {"name": "box"},
      "mark": {"type": "rect", "fill": "white", "stroke": null},
      "encoding": {"x2": {"field": "x2"}, "y2": {"field": "y2"}}
    },
    {
      "data": {"name": "labs"},
      "mark": {"type": "text", "align": "left", "baseline": "middle", "fontSize": 42, "font": "Liberation Sans"},
      "encoding": {
        "text": {"field": "t"},
        "color": {"field": "s", "type": "nominal", "legend": null,
          "scale": {"domain": ["1e-06","1e-05","1e-04","0.001","0.01","0.1","1","10","100","1000","1e4","1e5","1e6"],
                    "range": ["#ff0000","#00ff00","#0000ff","#00ffff","#ff00ff","#000000","#ff0000","#00ff00","#0000ff","#00ffff","#ff00ff","#000000","#ff0000"]}}
      }
    },
    {
      "data": {"name": "lns"},
      "mark": {"type": "line", "strokeWidth": 4.5, "clip": true},
      "encoding": {
        "color": {"field": "s", "type": "nominal", "legend": null,
          "scale": {"domain": ["1e-06","1e-05","1e-04","0.001","0.01","0.1","1","10","100","1000","1e4","1e5","1e6"],
                    "range": ["#ff0000","#00ff00","#0000ff","#00ffff","#ff00ff","#000000","#ff0000","#00ff00","#0000ff","#00ffff","#ff00ff","#000000","#ff0000"]}}
      }
    },
    {
      "data": {"name": "pts"},
      "mark": {"type": "point", "opacity": 1, "fillOpacity": 1, "strokeOpacity": 1, "strokeWidth": 5},
      "encoding": {
        "strokeWidth": {"value": 5},
        "shape": {"field": "s", "type": "nominal", "legend": null,
          "scale": {"domain": ["1e-06","1e-05","1e-04","0.001","0.01","0.1","1","10","100","1000","1e4","1e5","1e6"],
                    "range": ["circle","square","triangle-up","M0,-1.6L1,0L0,1.6L-1,0Z","M0,-1L0.235,-0.324L0.951,-0.309L0.38,0.124L0.588,0.809L0,0.4L-0.588,0.809L-0.38,0.124L-0.951,-0.309L-0.235,-0.324Z","M-1,0L1,0M0,-1L0,1","M-1,-1L1,1M-1,1L1,-1","M-1,0L1,0M0,-1L0,1M-0.7,-0.7L0.7,0.7M-0.7,0.7L0.7,-0.7","circle","square","triangle-up","triangle-left","M0,-1L0.235,-0.324L0.951,-0.309L0.38,0.124L0.588,0.809L0,0.4L-0.588,0.809L-0.38,0.124L-0.951,-0.309L-0.235,-0.324Z"]}},
        "stroke": {"field": "s", "type": "nominal", "legend": null,
          "scale": {"domain": ["1e-06","1e-05","1e-04","0.001","0.01","0.1","1","10","100","1000","1e4","1e5","1e6"],
                    "range": ["#ff0000","#00ff00","#0000ff","#00ffff","#ff00ff","#000000","#ff0000","#00ff00","#0000ff","#00ffff","#ff00ff","#000000","#ff0000"]}},
        "fill": {"field": "s", "type": "nominal", "legend": null,
          "scale": {"domain": ["1e-06","1e-05","1e-04","0.001","0.01","0.1","1","10","100","1000","1e4","1e5","1e6"],
                    "range": ["transparent","transparent","transparent","transparent","#ff00ff","transparent","transparent","transparent","#0000ff","#00ffff","#ff00ff","#000000","#ff0000"]}},
        "size": {"field": "s", "type": "nominal", "legend": null,
          "scale": {"type": "ordinal", "domain": ["1e-06","1e-05","1e-04","0.001","0.01","0.1","1","10","100","1000","1e4","1e5","1e6"],
                    "range": [324,289,576,324,700,625,441,441,196,196,400,400,700]}}
      }
    },
    {
      "data": {"name": "eqm"},
      "mark": {"type": "text", "align": "left", "baseline": "alphabetic", "fontSize": 42, "font": "Liberation Sans", "color": "black"},
      "encoding": {"text": {"field": "t"}}
    },
    {
      "data": {"name": "eqs"},
      "mark": {"type": "text", "align": "left", "baseline": "alphabetic", "fontSize": 30, "font": "Liberation Sans", "color": "black"},
      "encoding": {"text": {"field": "t"}}
    }
  ]
}
